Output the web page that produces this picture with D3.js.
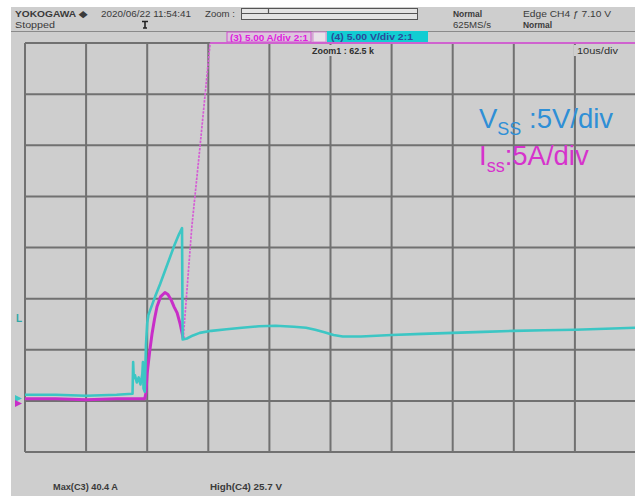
<!DOCTYPE html>
<html>
<head>
<meta charset="utf-8">
<script src="https://cdn.jsdelivr.net/npm/d3@7"></script>
<style>
  html, body { margin: 0; padding: 0; background: #ffffff; }
  svg { display: block; }
</style>
</head>
<body>
<svg id="scope" width="635" height="496"></svg>
<script>
// Time axis: 10 us/div, 10 divisions
const timeTicks = [0, 10, 20, 30, 40, 50, 60, 70, 80, 90, 100];
// Vertical axis: 5 units/div, 8 divisions, ground one division above bottom
const levelTicks = [-5, 0, 5, 10, 15, 20, 25, 30, 35];

// Channel 4: V_SS (V)
const vTime = [0, 5, 10, 15, 17.6, 17.7, 17.8, 18.0, 18.3, 18.6, 18.9, 19.2, 19.3, 19.4, 19.6, 19.8, 20.0, 20.2, 20.5, 21.3, 22.1, 22.9, 23.7, 24.5, 25.2, 25.7, 25.8,
  26.5, 27.5, 28.6, 30.5, 33.0, 35.5, 38.3, 41.0, 44.0, 46.0, 47.5, 49.0, 50.5, 52.0, 55, 60, 65, 70, 75, 80, 85, 90, 95, 100];
const vss = [0.6, 0.6, 0.5, 0.6, 0.7, 3.8, 2.2, 2.5, 1.8, 2.3, 1.6, 2.6, 3.8, 1.2, 0.9, 5.5, 7.6, 8.4, 8.9, 10.2, 11.4, 12.7, 14.0, 15.3, 16.3, 16.9, 6.0,
  6.1, 6.4, 6.65, 6.85, 7.0, 7.15, 7.3, 7.35, 7.25, 7.15, 6.95, 6.7, 6.45, 6.3, 6.3, 6.45, 6.55, 6.65, 6.75, 6.85, 6.9, 6.95, 7.05, 7.15];

// Channel 3: I_SS (A), slow part
const iTime = [0, 5, 10, 15, 19.6, 19.8, 20.0, 20.4, 20.8, 21.2, 21.6, 22.2, 22.9, 23.4, 23.9, 24.4, 24.9, 25.4, 25.9];
const iss = [0.2, 0.2, 0.1, 0.2, 0.2, 0.8, 2.7, 4.8, 6.6, 8.0, 9.2, 10.2, 10.6, 10.4, 9.9, 9.2, 8.6, 7.5, 6.1];
// Channel 3: fast ramp to the peak (held at the screen top)
const rampTime = [25.9, 27.3, 28.6, 30.3, 30.8, 100];
const rampIss = [6.1, 17.0, 24.6, 35.0, 40.4, 40.4];

const headerLeft = ["YOKOGAWA \u25C6", "Stopped"];
const headerDate = "2020/06/22 11:54:41";
const headerAcq = ["Normal", "625MS/s"];
const headerTrig = ["Edge CH4 \u0192 7.10 V", "Normal"];
const ch3Label = "(3) 5.00 A/div 2:1";
const ch4Label = "(4) 5.00 V/div 2:1";
const zoomLabel = "Zoom1 : 62.5 k";
const timebaseLabel = "10us/div";
const measures = ["Max(C3)   40.4 A", "High(C4)   25.7 V"];

const svg = d3.select("#scope");
const W = 635, H = 496;

const x = d3.scaleLinear().domain([0, 100]).range([25, 636]);
const yV = d3.scaleLinear().domain([-5, 35]).range([452, 43]).clamp(true);
const yA = d3.scaleLinear().domain([-5, 35]).range([452, 43]).clamp(true);

// screen background
svg.append("rect").attr("x", 11).attr("y", 7).attr("width", W - 11).attr("height", H - 7).attr("fill", "#cecece");

// header separator
svg.append("line").attr("x1", 11).attr("x2", W).attr("y1", 31.5).attr("y2", 31.5)
  .attr("stroke", "#8a8a8a").attr("stroke-width", 1.2);

const hdr = svg.append("g").attr("font-family", "Liberation Sans, Arial, sans-serif")
  .attr("font-size", 8.5).attr("font-weight", "bold").attr("fill", "#3a3a3a");
hdr.append("text").attr("x", 15).attr("y", 17).attr("textLength", 72).attr("lengthAdjust", "spacingAndGlyphs").text(headerLeft[0]);
hdr.append("text").attr("x", 15).attr("y", 27.5).attr("textLength", 40).attr("lengthAdjust", "spacingAndGlyphs").attr("font-weight", "normal").text(headerLeft[1]);
hdr.append("text").attr("x", 101).attr("y", 17).attr("textLength", 90).attr("lengthAdjust", "spacingAndGlyphs").attr("font-weight", "normal").text(headerDate);
hdr.append("text").attr("x", 205).attr("y", 17).attr("textLength", 30).attr("lengthAdjust", "spacingAndGlyphs").attr("font-weight", "normal").text("Zoom :");
hdr.append("text").attr("x", 453).attr("y", 17).attr("textLength", 29).attr("lengthAdjust", "spacingAndGlyphs").text(headerAcq[0]);
hdr.append("text").attr("x", 453).attr("y", 27.5).attr("textLength", 38).attr("lengthAdjust", "spacingAndGlyphs").attr("font-weight", "normal").text(headerAcq[1]);
hdr.append("text").attr("x", 523).attr("y", 17).attr("textLength", 88).attr("lengthAdjust", "spacingAndGlyphs").attr("font-weight", "normal").text(headerTrig[0]);
hdr.append("text").attr("x", 523).attr("y", 27.5).attr("textLength", 29).attr("lengthAdjust", "spacingAndGlyphs").text(headerTrig[1]);

// zoom position bar
svg.append("rect").attr("x", 241.5).attr("y", 8.5).attr("width", 176).attr("height", 11)
  .attr("fill", "#e4e4e4").attr("stroke", "#555").attr("stroke-width", 1);
svg.append("line").attr("x1", 242).attr("x2", 417).attr("y1", 13.5).attr("y2", 13.5).attr("stroke", "#555").attr("stroke-width", 1);
svg.append("line").attr("x1", 268.5).attr("x2", 268.5).attr("y1", 9).attr("y2", 14).attr("stroke", "#555").attr("stroke-width", 1.2);

// trigger position mark
svg.append("path").attr("d", "M142,21.5 H148 M145,21.5 V28 M143,28 H147").attr("stroke", "#222").attr("stroke-width", 1.6).attr("fill", "none");

// channel labels
svg.append("rect").attr("x", 227).attr("y", 32).attr("width", 84).attr("height", 10).attr("fill", "#dcc6dc").attr("stroke", "#d24fd2").attr("stroke-width", 1);
svg.append("text").attr("x", 230).attr("y", 40.5).attr("font-family", "Liberation Sans, Arial, sans-serif").attr("font-size", 8.5).attr("font-weight", "bold")
  .attr("fill", "#e020e0").attr("textLength", 78).attr("lengthAdjust", "spacingAndGlyphs").text(ch3Label);
svg.append("rect").attr("x", 313).attr("y", 32).attr("width", 13).attr("height", 10).attr("fill", "#e8e2e8").attr("stroke", "#d48ad4").attr("stroke-width", 1);
svg.append("rect").attr("x", 327).attr("y", 31).attr("width", 101).attr("height", 11).attr("fill", "#12cdd2");
svg.append("text").attr("x", 331).attr("y", 40).attr("font-family", "Liberation Sans, Arial, sans-serif").attr("font-size", 8.5).attr("font-weight", "bold")
  .attr("fill", "#2b4a9a").attr("textLength", 82).attr("lengthAdjust", "spacingAndGlyphs").text(ch4Label);

// grid
const grid = svg.append("g").attr("stroke", "#717171").attr("stroke-width", 2);
grid.selectAll("line.v").data(timeTicks).join("line").attr("class", "v")
  .attr("x1", d => x(d)).attr("x2", d => x(d)).attr("y1", yV(35)).attr("y2", yV(-5));
grid.selectAll("line.h").data(levelTicks).join("line").attr("class", "h")
  .attr("x1", x(0)).attr("x2", x(100)).attr("y1", d => yV(d)).attr("y2", d => yV(d));

// text inside the grid
const small = svg.append("g").attr("font-family", "Liberation Sans, Arial, sans-serif").attr("font-size", 8.5)
  .attr("font-weight", "bold").attr("fill", "#2f2f2f");
small.append("rect").attr("x", 310).attr("y", 45).attr("width", 66).attr("height", 11).attr("fill", "#cecece");
small.append("text").attr("x", 312).attr("y", 53.5).attr("textLength", 62).attr("lengthAdjust", "spacingAndGlyphs").text(zoomLabel);
small.append("rect").attr("x", 574).attr("y", 45).attr("width", 46).attr("height", 11).attr("fill", "#cecece");
small.append("text").attr("x", 577).attr("y", 53.5).attr("textLength", 41).attr("lengthAdjust", "spacingAndGlyphs").attr("font-weight", "normal").text(timebaseLabel);

// traces
const lineV = d3.line().x((d, i) => x(vTime[i])).y(d => yV(d));
const lineI = d3.line().x((d, i) => x(iTime[i])).y(d => yA(d));
const lineR = d3.line().x(d => x(d[0])).y(d => yA(d[1]));
const ramp = rampTime.map((t, i) => [t, rampIss[i]]);

// steep edge: sparse samples show as a dotted line
svg.append("path").datum(ramp.slice(0, 4)).attr("d", lineR).attr("fill", "none")
  .attr("stroke", "#d55cd5").attr("stroke-width", 1.7).attr("stroke-dasharray", "2.5,1.2");
// held at the top of the screen
svg.append("path").datum(ramp.slice(3)).attr("d", lineR).attr("fill", "none")
  .attr("stroke", "#cf62cf").attr("stroke-width", 2);
svg.append("path").datum(iss).attr("d", lineI).attr("fill", "none")
  .attr("stroke", "#c82ec8").attr("stroke-width", 3).attr("stroke-linejoin", "round");
svg.append("path").datum(vss).attr("d", lineV).attr("fill", "none")
  .attr("stroke", "#3cc6c4").attr("stroke-width", 2.6).attr("stroke-linejoin", "round");

// channel markers on the left edge
svg.append("text").attr("x", 16).attr("y", 322).attr("font-family", "Liberation Sans, Arial, sans-serif")
  .attr("font-size", 10).attr("font-weight", "bold").attr("fill", "#2fa8a6").text("L");
svg.append("path").attr("d", "M15,395 L22,398.5 L15,402 Z").attr("fill", "#3cc6c4");
svg.append("path").attr("d", "M15,400 L22,403.5 L15,407 Z").attr("fill", "#c82ec8");

// scale annotations
const ann = svg.append("g").attr("font-family", "Liberation Sans, Arial, sans-serif");
const tV = ann.append("text").attr("x", 479).attr("y", 128).attr("fill", "#2f8fd6").attr("font-size", 27.5);
tV.append("tspan").text("V");
tV.append("tspan").attr("font-size", 18).attr("dy", 7).text("SS");
tV.append("tspan").attr("dy", -7).text(" :5V/div");
const tI = ann.append("text").attr("x", 479).attr("y", 165).attr("fill", "#d633cc").attr("font-size", 27.5);
tI.append("tspan").text("I");
tI.append("tspan").attr("font-size", 18).attr("dy", 7).text("ss");
tI.append("tspan").attr("dy", -7).text(":5A/div");

// measurements
const meas = svg.append("g").attr("font-family", "Liberation Sans, Arial, sans-serif").attr("font-size", 8.5)
  .attr("font-weight", "bold").attr("fill", "#3a3a3a");
meas.append("text").attr("x", 53).attr("y", 490).attr("textLength", 65).attr("lengthAdjust", "spacingAndGlyphs").text(measures[0]);
meas.append("text").attr("x", 210).attr("y", 490).attr("textLength", 72).attr("lengthAdjust", "spacingAndGlyphs").text(measures[1]);
</script>
</body>
</html>
